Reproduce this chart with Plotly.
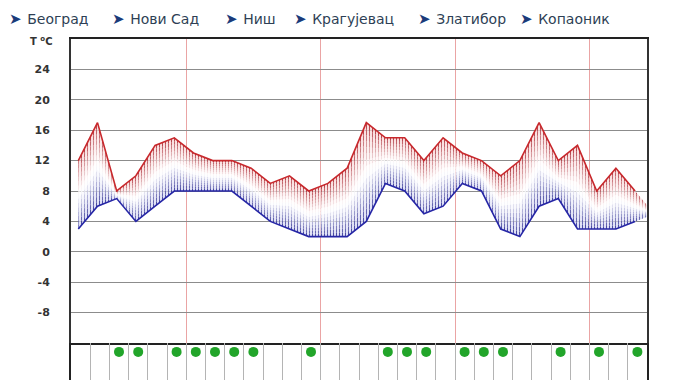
import numpy as np
import plotly.graph_objects as go

# ---------------- data ----------------
cities = ["Београд", "Нови Сад", "Ниш", "Крагујевац", "Златибор", "Копаоник"]
tmax = [12, 17, 8, 10, 14, 15, 13, 12, 12, 11, 9, 10, 8, 9, 11, 17, 15, 15, 12, 15,
        13, 12, 10, 12, 17, 12, 14, 8, 11, 8, 5]
tmin = [3, 6, 7, 4, 6, 8, 8, 8, 8, 6, 4, 3, 2, 2, 2, 4, 9, 8, 5, 6,
        9, 8, 3, 2, 6, 7, 3, 3, 3, 4, 5]
rain_cells = [2, 3, 5, 6, 7, 8, 9, 12, 16, 17, 18, 20, 21, 22, 25, 27, 29]
ytick_vals = [-8, -4, 0, 4, 8, 12, 16, 20, 24]
ytick_text = ["-8", "-4", "0", "4", "8", "12", "16", "20", "24"]
day_bounds = [6, 13, 20, 27]
n_cells = 30

# ---------------- layout geometry ----------------
W, H = 676, 380
ML, MR, MT, MB = 71, 29, 39, 0
PW, PH = W - ML - MR, H - MT - MB
split = (H - 343) / PH  # bottom panel height fraction


def px_x(px):
    return (px - ML) / PW


def px_y(py):
    return (H - MB - py) / PH


x = np.arange(len(tmax)) + 0.38
lo = np.array(tmin, float)
hi = np.array(tmax, float)


def mix(c1, c2, a):
    return tuple(int(round(c1[i] + (c2[i] - c1[i]) * a)) for i in range(3))


WHITE = (255, 255, 255)
BLUE_FG, RED_FG = (34, 34, 140), (165, 30, 40)
BLUE_BG, RED_BG = (205, 207, 240), (246, 205, 205)


def band_colors(t):
    s = abs(t - 0.5) * 2
    w = s ** 1.1
    if t < 0.5:
        fg, bg = mix(WHITE, BLUE_FG, w), mix(WHITE, BLUE_BG, w)
    else:
        fg, bg = mix(WHITE, RED_FG, w), mix(WHITE, RED_BG, w)
    return "rgba(%d,%d,%d,0.85)" % fg, "rgba(%d,%d,%d,0.75)" % bg


fig = go.Figure()

# base of the band
fig.add_trace(go.Scatter(x=x, y=lo, mode="lines", line=dict(width=0),
                         hoverinfo="skip", showlegend=False, xaxis="x", yaxis="y"))
N = 16
for i in range(N):
    f1 = (i + 1) / N
    t = (i + 0.5) / N
    fg, bg = band_colors(t)
    fig.add_trace(go.Scatter(
        x=x, y=lo + (hi - lo) * f1, mode="lines", line=dict(width=0),
        fill="tonexty", fillcolor=bg,
        fillpattern=dict(shape="|", size=3, solidity=0.34, fgcolor=fg,
                         bgcolor=bg, fillmode="replace"),
        hoverinfo="skip", showlegend=False, xaxis="x", yaxis="y"))

# max / min lines
fig.add_trace(go.Scatter(x=x[:30], y=tmax[:30], mode="lines",
                         line=dict(color="#c8282c", width=1.6),
                         showlegend=False, xaxis="x", yaxis="y"))
fig.add_trace(go.Scatter(x=x[:30], y=tmin[:30], mode="lines",
                         line=dict(color="#2626a6", width=1.6),
                         showlegend=False, xaxis="x", yaxis="y"))

# rain dots
fig.add_trace(go.Scatter(x=[c + 0.5 for c in rain_cells], y=[0.76] * len(rain_cells),
                         mode="markers", marker=dict(size=10, color="#22a52a"),
                         showlegend=False, xaxis="x2", yaxis="y2", cliponaxis=False))

annotations = []
header_x = [7, 110, 223, 292, 416, 518]
for cx, city in zip(header_x, cities):
    annotations.append(dict(
        x=px_x(cx), y=px_y(19), xref="paper", yref="paper",
        xanchor="left", yanchor="middle", showarrow=False,
        text="<span style='color:#1b3a7a;font-size:15px'>➤</span>\u2009\u2009" + city,
        font=dict(family="DejaVu Sans", size=14, color="#2e3f55")))
annotations.append(dict(
    x=px_x(54), y=px_y(41), xref="paper", yref="paper",
    xanchor="right", yanchor="middle", showarrow=False,
    text="<b>T <sup>o</sup>C</b>",
    font=dict(family="DejaVu Sans", size=10, color="#333333")))

fig.update_layout(
    width=W, height=H,
    margin=dict(l=ML, r=MR, t=MT, b=MB, pad=0),
    paper_bgcolor="white", plot_bgcolor="white",
    showlegend=False,
    annotations=annotations,
    xaxis=dict(domain=[0, 1], anchor="y", range=[0, n_cells],
               tickvals=day_bounds, showgrid=True, gridcolor="#eaa4a4", gridwidth=1,
               showticklabels=False, ticks="", zeroline=False,
               showline=True, mirror=True, linecolor="#222222", linewidth=2),
    yaxis=dict(domain=[split, 1], anchor="x", range=[-12, 28],
               tickvals=ytick_vals, ticktext=ytick_text,
               showgrid=True, gridcolor="#8c8c8c", gridwidth=1,
               zeroline=False, ticks="", ticklabelstandoff=17,
               tickfont=dict(family="DejaVu Sans", size=11, color="#333333", weight="bold"),
               showline=True, mirror=True, linecolor="#333333", linewidth=2),
    xaxis2=dict(domain=[0, 1], anchor="y2", range=[0, n_cells], tick0=0, dtick=1,
                showgrid=True, gridcolor="#b4b4b4", gridwidth=1,
                showticklabels=False, ticks="", zeroline=False, showline=False),
    yaxis2=dict(domain=[0, split], anchor="x2", range=[0, 1],
                showgrid=False, showticklabels=False, ticks="", zeroline=False,
                showline=True, mirror=True, linecolor="#222222", linewidth=2),
)

fig.write_html("out.html")
